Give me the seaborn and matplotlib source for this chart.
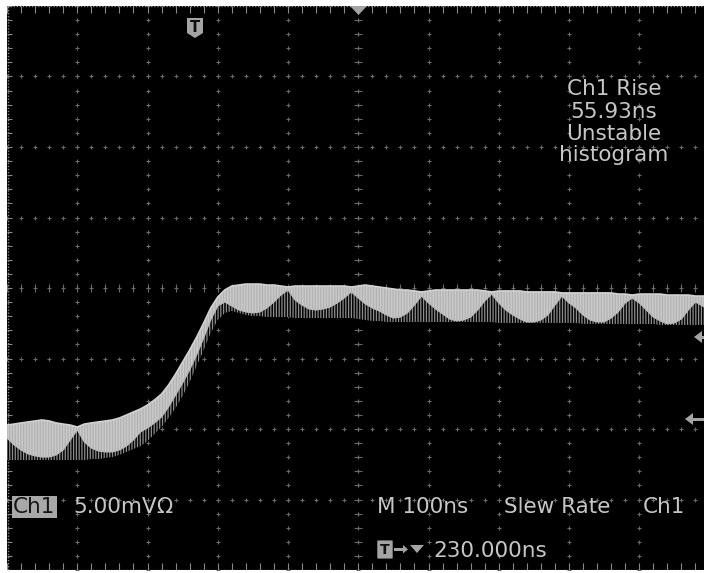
import numpy as np
import matplotlib
matplotlib.use("Agg")
import matplotlib.pyplot as plt
import seaborn as sns
from matplotlib.patches import Polygon, FancyBboxPatch

# ---- acquisition record (time in ns relative to screen centre, level in mV) ----
time_ns = [-500, -490, -480, -470, -460, -450, -440, -430, -420, -410,
           -400, -390, -380, -370, -360, -350, -340, -330, -320, -310,
           -300, -290, -280, -270, -260, -250, -240, -230, -220, -210,
           -200, -190, -180, -170, -160, -150, -140, -130, -120, -110,
           -100, -90, -80, -70, -60, -50, -40, -30, -20, -10,
           0, 10, 20, 30, 40, 50, 60, 70, 80, 90,
           100, 110, 120, 130, 140, 150, 160, 170, 180, 190,
           200, 210, 220, 230, 240, 250, 260, 270, 280, 290,
           300, 310, 320, 330, 340, 350, 360, 370, 380, 390,
           400, 410, 420, 430, 440, 450, 460, 470, 480, 490, 500]

# upper envelope of the persistence trace
upper_mv = [-9.72, -9.65, -9.57, -9.50, -9.43, -9.36, -9.43, -9.57, -9.65, -9.72,
            -9.86, -9.65, -9.57, -9.50, -9.43, -9.36, -9.22, -9.01, -8.79, -8.58,
            -8.30, -7.94, -7.52, -6.88, -6.10, -5.25, -4.40, -3.48, -2.48, -1.42,
            -0.64, -0.14, 0.14, 0.21, 0.28, 0.28, 0.28, 0.21, 0.21, 0.14,
            0.07, 0.14, 0.14, 0.14, 0.14, 0.14, 0.14, 0.14, 0.14, 0.07,
            0.14, 0.21, 0.14, 0.07, 0.00, -0.07, -0.14, -0.14, -0.21, -0.28,
            -0.21, -0.14, -0.14, -0.14, -0.14, -0.14, -0.14, -0.14, -0.21, -0.28,
            -0.21, -0.21, -0.21, -0.21, -0.28, -0.28, -0.28, -0.28, -0.28, -0.35,
            -0.35, -0.35, -0.35, -0.35, -0.35, -0.35, -0.35, -0.43, -0.43, -0.50,
            -0.43, -0.43, -0.43, -0.43, -0.50, -0.50, -0.50, -0.50, -0.57, -0.57, -0.57]

# lower edge of the dense (bright) part of the trace
dense_low_mv = [-10.64, -11.13, -11.49, -11.77, -11.91, -11.99, -11.99, -11.84, -11.49, -10.78,
                -10.07, -10.92, -11.35, -11.56, -11.63, -11.63, -11.49, -11.21, -10.78, -10.21,
                -9.93, -9.57, -9.15, -8.44, -7.59, -6.74, -5.82, -4.75, -3.55, -2.27,
                -1.28, -0.99, -1.28, -1.56, -1.70, -1.77, -1.70, -1.42, -0.99, -0.50,
                -0.14, -0.85, -1.21, -1.49, -1.56, -1.49, -1.35, -1.06, -0.71, -0.28,
                -0.71, -1.13, -1.42, -1.63, -1.91, -2.13, -2.06, -1.77, -1.21, -0.57,
                -1.06, -1.49, -1.84, -2.20, -2.34, -2.27, -2.06, -1.56, -0.92, -0.43,
                -1.06, -1.56, -1.91, -2.20, -2.41, -2.41, -2.27, -1.91, -1.21, -0.57,
                -1.06, -1.42, -1.91, -2.27, -2.41, -2.41, -2.13, -1.70, -1.06, -0.71,
                -1.06, -1.56, -2.06, -2.34, -2.55, -2.48, -2.20, -1.56, -0.99, -1.28, -1.56]

# lowest excursion of the sparse (striped) part of the trace
sparse_low_mv = [-12.20, -12.20, -12.20, -12.20, -12.20, -12.20, -12.20, -12.20, -12.20, -12.20,
                 -12.20, -12.20, -12.13, -12.13, -12.06, -11.99, -11.84, -11.63, -11.42, -11.21,
                 -10.85, -10.35, -9.86, -9.22, -8.51, -7.66, -6.67, -5.53, -4.40, -3.19,
                 -2.27, -1.77, -1.63, -1.77, -1.91, -1.99, -1.99, -2.06, -2.06, -2.06,
                 -2.06, -2.13, -2.13, -2.13, -2.13, -2.13, -2.13, -2.13, -2.13, -2.13,
                 -2.20, -2.27, -2.34, -2.34, -2.41, -2.41, -2.41, -2.41, -2.41, -2.41,
                 -2.41, -2.41, -2.41, -2.41, -2.41, -2.41, -2.41, -2.41, -2.41, -2.41,
                 -2.48, -2.48, -2.48, -2.48, -2.48, -2.48, -2.48, -2.48, -2.48, -2.48,
                 -2.48, -2.48, -2.55, -2.55, -2.55, -2.55, -2.55, -2.55, -2.55, -2.55,
                 -2.55, -2.55, -2.55, -2.62, -2.62, -2.62, -2.62, -2.62, -2.62, -2.62, -2.62]

# screen readouts
channel_label = "Ch1"
scale_label = "5.00mV\u03a9"
timebase_label = "M 100ns"
trigger_type = "Slew Rate"
trigger_source = "Ch1"
trigger_pos = "230.000ns"
measurement_lines = ["Ch1 Rise", "55.93ns", "Unstable", "histogram"]

NS_PER_DIV = 100
MV_PER_DIV = 5

# ---- styling ----
sns.set_theme(style="dark", rc={"axes.facecolor": "black",
                                "figure.facecolor": "white",
                                "hatch.linewidth": 0.9})
plt.rcParams["font.family"] = ["DejaVu Sans"]

W, H = 704, 573
fig = plt.figure(figsize=(W / 100, H / 100), dpi=100)
ax = fig.add_axes([7 / W, 3 / H, 702.5 / W, 564 / H])
ax.set_xlim(-5 * NS_PER_DIV, 5 * NS_PER_DIV)
ax.set_ylim(-4 * MV_PER_DIV, 4 * MV_PER_DIV)
ax.set_xticks([])
ax.set_yticks([])
for s in ax.spines.values():
    s.set_visible(False)

GRID = "#6a6a6a"
TEXT = "#c6c6c6"
ICON = "#a4a4a4"

# ---- graticule ----
minor_t = np.arange(-500, 501, NS_PER_DIV / 5)
minor_v = np.arange(-20, 20.01, MV_PER_DIV / 5)
for t in np.arange(-400, 401, NS_PER_DIV):
    ax.plot(np.full(minor_v.size, t), minor_v, ls="none", marker="+",
            ms=3, mew=0.8, color=GRID, zorder=1)
for v in np.arange(-15, 16, MV_PER_DIV):
    ax.plot(minor_t, np.full(minor_t.size, v), ls="none", marker="+",
            ms=3, mew=0.8, color=GRID, zorder=1)
# centre axes with fine ticks
ax.vlines(minor_t, -0.3, 0.3, color=GRID, lw=0.8, zorder=1)
ax.hlines(minor_v, -6, 6, color=GRID, lw=0.8, zorder=1)
# frame with inward ticks
dot_style = dict(ls=(0, (1, 1.2)), lw=1.0, color="#8a8a8a", zorder=1)
ax.plot([-500, 500], [19.97, 19.97], **dot_style)
ax.plot([-500, 500], [-19.97, -19.97], **dot_style)
ax.plot([-499, -499], [-20, 20], **dot_style)
ax.vlines(minor_t, 19.5, 20, color="#8a8a8a", lw=0.8, zorder=1)
ax.vlines(minor_t, -20, -19.5, color="#8a8a8a", lw=0.8, zorder=1)
ax.hlines(minor_v, -500, -493, color="#8a8a8a", lw=0.8, zorder=1)

# ---- waveform ----
ax.fill_between(time_ns, sparse_low_mv, dense_low_mv, facecolor="black",
                edgecolor="#8e8e8e", hatch="||||||", linewidth=0, zorder=3)
ax.fill_between(time_ns, dense_low_mv, upper_mv, facecolor="#cacaca",
                edgecolor="#b2b2b2", hatch="||||||", linewidth=0, zorder=4)
sns.lineplot(x=time_ns, y=upper_mv, ax=ax, color="#d2d2d2", lw=1.2, zorder=5)
sns.lineplot(x=time_ns, y=dense_low_mv, ax=ax, color="#bcbcbc", lw=0.8, zorder=5)


# ---- readouts and markers (figure pixel coordinates, origin top-left) ----
def fx(x):
    return x / W


def fy(y):
    return 1 - y / H


def poly(points, color):
    fig.patches.append(Polygon([(fx(x), fy(y)) for x, y in points], closed=True,
                               transform=fig.transFigure, facecolor=color,
                               edgecolor="none", zorder=10))


FS = 15.5
for line, base in zip(measurement_lines, [95, 118, 140, 161]):
    fig.text(fx(614), fy(base), line, ha="center", va="baseline",
             fontsize=FS, color=TEXT, zorder=10)

fig.text(fx(13), fy(513), channel_label, ha="left", va="baseline", fontsize=FS,
         color="#151515", zorder=11,
         bbox=dict(boxstyle="square,pad=0.06", fc="#a8a8a8", ec="none"))
fig.text(fx(73), fy(513), scale_label, ha="left", va="baseline", fontsize=FS,
         color=TEXT, zorder=10)
fig.text(fx(377), fy(513), timebase_label, ha="left", va="baseline", fontsize=FS,
         color=TEXT, zorder=10)
fig.text(fx(504), fy(513), trigger_type, ha="left", va="baseline", fontsize=FS,
         color=TEXT, zorder=10)
fig.text(fx(643), fy(513), trigger_source, ha="left", va="baseline", fontsize=FS,
         color=TEXT, zorder=10)
fig.text(fx(433), fy(557), trigger_pos, ha="left", va="baseline", fontsize=FS,
         color=TEXT, zorder=10)

# trigger-position badge at the top of the screen
poly([(187, 18), (203, 18), (203, 33), (195, 38), (187, 33)], ICON)
fig.text(fx(195), fy(27), "T", ha="center", va="center", fontsize=10.5,
         fontweight="bold", color="#101010", zorder=11)
# horizontal reference marker (screen centre)
poly([(350, 6), (367, 6), (358.5, 15)], ICON)

# level markers on the right edge
poly([(694, 337), (702, 331), (702, 343)], ICON)
poly([(701, 335.5), (704, 335.5), (704, 338.5), (701, 338.5)], ICON)
poly([(685, 419), (693, 413), (693, 425)], ICON)
poly([(692, 417.5), (704, 417.5), (704, 420.5), (692, 420.5)], ICON)

# trigger-position readout icon
fig.patches.append(FancyBboxPatch((fx(378), fy(558)), 14 / W, 17 / H,
                                  boxstyle="round,pad=0.001",
                                  transform=fig.transFigure, fc=ICON, ec="none",
                                  zorder=10))
fig.text(fx(385), fy(549.5), "T", ha="center", va="center", fontsize=10,
         fontweight="bold", color="#101010", zorder=11)
poly([(394, 548), (404, 548), (404, 550.5), (394, 550.5)], ICON)
poly([(403, 545), (408, 549.3), (403, 553.5)], ICON)
poly([(410, 545), (424, 545), (417, 553)], ICON)

fig.savefig("out.png", dpi=100, facecolor="white")
